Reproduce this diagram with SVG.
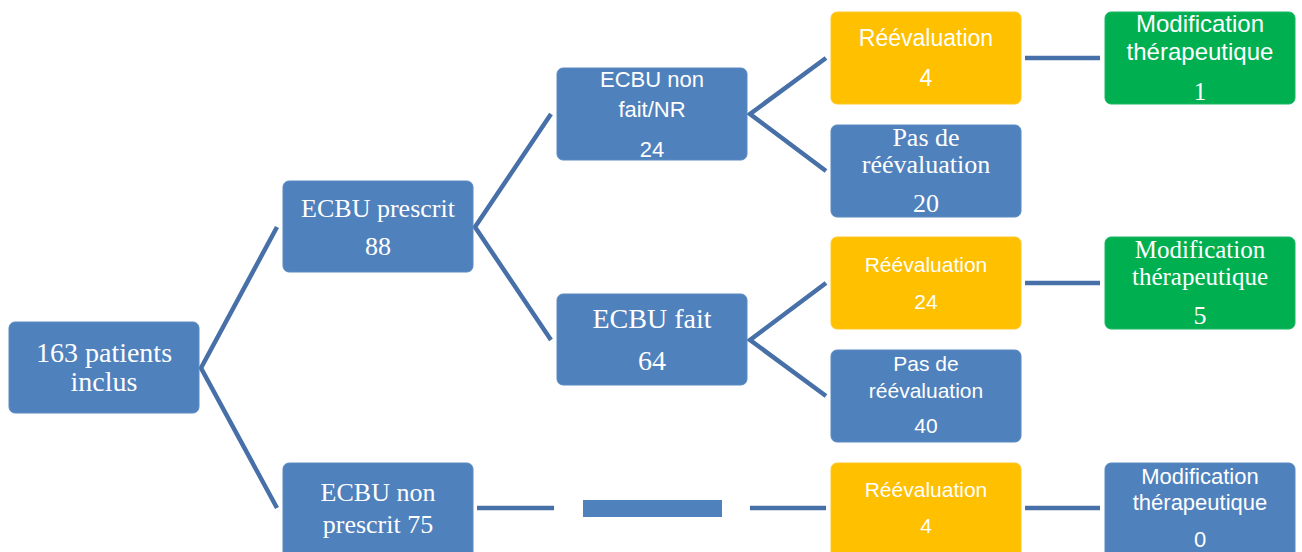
<svg xmlns="http://www.w3.org/2000/svg" width="1302" height="552" viewBox="0 0 1302 552">
<style>
.b{fill:#4F81BD;stroke:#5B8AC2;stroke-width:1}
.y{fill:#FFC000;stroke:#FFC72A;stroke-width:1}
.g{fill:#00B050;stroke:#1AB862;stroke-width:1}
.c{stroke:#4870A8;stroke-width:4.5;fill:none}
.s{font-family:"Liberation Serif","Times New Roman",serif;fill:#fff;text-anchor:middle}
.n{font-family:"Liberation Sans",Arial,sans-serif;fill:#fff;text-anchor:middle}
</style>
<rect width="1302" height="552" fill="#fff"/>
<g id="connectors">
<polyline class="c" points="277,227 201,368 277,508"/>
<polyline class="c" points="551,114 475,227 551,340"/>
<polyline class="c" points="826,58 750,114 826,171"/>
<polyline class="c" points="826,283 750,340 826,396"/>
<line class="c" x1="1025" y1="58" x2="1100" y2="58"/>
<line class="c" x1="1025" y1="283" x2="1100" y2="283"/>
<line class="c" x1="1025" y1="508" x2="1100" y2="508"/>
<line class="c" x1="477" y1="508" x2="554" y2="508"/>
<rect x="583" y="500" width="139" height="17" fill="#4F81BD"/>
<line class="c" x1="750" y1="508" x2="826" y2="508"/>
</g>
<g id="root"><rect class="b" x="9" y="322" width="190" height="91" rx="6"/>
<text class="s" font-size="28" x="104" y="362">163 patients</text><text class="s" font-size="28" x="104" y="391">inclus</text></g>
<g id="ecbu-prescrit"><rect class="b" x="283" y="181" width="190" height="91" rx="6"/>
<text class="s" font-size="26" x="378" y="217">ECBU prescrit</text><text class="s" font-size="26" x="378" y="255">88</text></g>
<g id="ecbu-non-prescrit"><rect class="b" x="283" y="463" width="190" height="95" rx="6"/>
<text class="s" font-size="26" x="378" y="501">ECBU non</text><text class="s" font-size="26" x="378" y="533">prescrit 75</text></g>
<g id="ecbu-non-fait"><rect class="b" x="557" y="68" width="190" height="92" rx="6"/>
<text class="n" font-size="22" x="652" y="87">ECBU non</text><text class="n" font-size="22" x="652" y="117">fait/NR</text><text class="n" font-size="22" x="652" y="157">24</text></g>
<g id="ecbu-fait"><rect class="b" x="557" y="294" width="190" height="91" rx="6"/>
<text class="s" font-size="28" x="652" y="328">ECBU fait</text><text class="s" font-size="28" x="652" y="370">64</text></g>
<g id="reeval-1"><rect class="y" x="831" y="12" width="190" height="92" rx="6"/>
<text class="n" font-size="23" x="926" y="46">Réévaluation</text><text class="n" font-size="23" x="926" y="86">4</text></g>
<g id="pas-reeval-1"><rect class="b" x="831" y="125" width="190" height="92" rx="6"/>
<text class="s" font-size="26" x="926" y="146">Pas de</text><text class="s" font-size="26" x="926" y="173">réévaluation</text><text class="s" font-size="26" x="926" y="212">20</text></g>
<g id="modif-1"><rect class="g" x="1105" y="12" width="190" height="92" rx="6"/>
<text class="n" font-size="24" x="1200" y="32">Modification</text><text class="n" font-size="24" x="1200" y="60">thérapeutique</text><text class="s" font-size="25" x="1200" y="100">1</text></g>
<g id="reeval-2"><rect class="y" x="831" y="237" width="190" height="92" rx="6"/>
<text class="n" font-size="21" x="926" y="272">Réévaluation</text><text class="n" font-size="21" x="926" y="309">24</text></g>
<g id="modif-2"><rect class="g" x="1105" y="237" width="190" height="92" rx="6"/>
<text class="s" font-size="25" x="1200" y="258">Modification</text><text class="s" font-size="25" x="1200" y="285">thérapeutique</text><text class="s" font-size="26" x="1200" y="324">5</text></g>
<g id="pas-reeval-2"><rect class="b" x="831" y="350" width="190" height="92" rx="6"/>
<text class="n" font-size="21" x="926" y="371">Pas de</text><text class="n" font-size="21" x="926" y="398">réévaluation</text><text class="n" font-size="21" x="926" y="433">40</text></g>
<g id="reeval-3"><rect class="y" x="831" y="463" width="190" height="95" rx="6"/>
<text class="n" font-size="21" x="926" y="497">Réévaluation</text><text class="n" font-size="21" x="926" y="533">4</text></g>
<g id="modif-3"><rect class="b" x="1105" y="463" width="190" height="95" rx="6"/>
<text class="n" font-size="22" x="1200" y="484">Modification</text><text class="n" font-size="22" x="1200" y="510">thérapeutique</text><text class="n" font-size="22" x="1200" y="547">0</text></g>
</svg>
